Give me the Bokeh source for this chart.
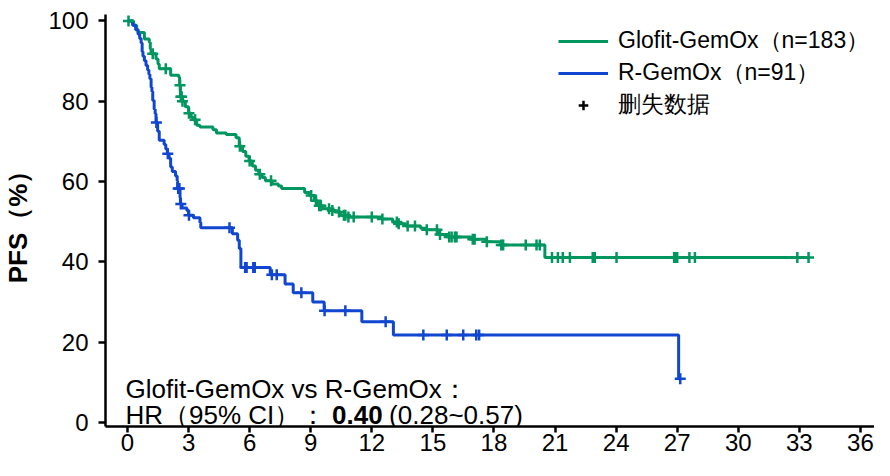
import numpy as np
from bokeh.plotting import figure
from bokeh.models import Range1d, FixedTicker, Legend, LegendItem, Label
from bokeh.embed import file_html
from bokeh.resources import INLINE

# ---------------- data ----------------
x_ticks = [0, 3, 6, 9, 12, 15, 18, 21, 24, 27, 30, 33, 36]
y_ticks = [0, 20, 40, 60, 80, 100]

glofit_label = "Glofit-GemOx（n=183）"
rgemox_label = "R-GemOx（n=91）"
censor_label = "删失数据"

glofit_time = [0, 0.30, 0.45, 0.52, 0.83, 1.07, 1.12, 1.16, 1.40, 1.50, 1.56, 2.12,
               2.52, 2.56, 2.60, 2.70, 2.84, 3.00, 3.12, 3.24, 3.40, 3.56, 4.20, 4.37,
               4.85, 5.33, 5.49, 5.65, 5.81, 5.97, 6.13, 6.29, 6.45, 6.61, 6.77, 7.10,
               7.41, 7.57, 8.70, 8.94, 9.18, 9.34, 9.58, 9.98, 10.22, 10.46, 10.79,
               12.47, 13.03, 13.27, 13.67, 14.40, 14.64, 15.28, 15.76, 16.88, 17.61,
               18.33, 20.50]
glofit_surv = [100, 98.9, 97.8, 97.1, 95.5, 94.7, 93.0, 91.8, 90.5, 89.3, 88.1, 86.5,
               86.0, 84.0, 81.1, 80.0, 78.6, 77.0, 76.0, 75.4, 74.0, 73.6, 72.9, 72.1,
               71.7, 70.9, 68.8, 67.5, 66.3, 65.1, 63.9, 62.8, 61.8, 61.0, 60.2, 59.4,
               58.9, 58.3, 57.3, 56.5, 55.2, 54.0, 53.2, 52.8, 52.4, 51.6, 51.2,
               50.7, 49.9, 49.5, 48.9, 48.4, 48.0, 46.8, 46.2, 45.6, 45.0,
               44.2, 41.1]
glofit_end = 33.5
glofit_censor = [0.05, 1.24, 1.88, 2.58, 2.62, 2.66, 2.70, 3.02, 3.32, 5.52, 6.00, 6.50,
                 7.05, 9.02, 9.26, 9.42, 9.50, 9.90, 10.06, 10.39, 10.63, 10.70, 10.85,
                 11.11, 12.00, 12.52, 13.23, 13.32, 13.76, 14.12, 14.70, 15.20, 15.35,
                 15.80, 15.92, 16.08, 16.16, 16.96, 17.05, 17.65, 18.36, 18.45, 19.56,
                 20.09, 20.25, 20.85, 21.14, 21.38, 21.73, 22.85, 22.95, 24.02, 26.85,
                 26.92, 27.00, 27.60, 27.87, 32.90, 33.45]

rgemox_time = [0, 0.25, 0.40, 0.52, 0.60, 0.67, 0.72, 0.76, 0.83, 0.91, 0.99, 1.05,
               1.10, 1.16, 1.20, 1.24, 1.31, 1.36, 1.40, 1.48, 1.56, 1.80, 1.88, 1.96,
               2.04, 2.12, 2.20, 2.36, 2.44, 2.46, 2.58, 2.60, 2.68, 2.92, 3.00, 3.24,
               3.56, 3.60, 5.15, 5.41, 5.49, 5.57, 7.01, 7.74, 8.14, 9.10, 9.66, 11.51,
               13.06, 27.07]
rgemox_surv = [100, 98.9, 97.8, 96.7, 95.6, 94.5, 92.3, 91.2, 90.1, 88.9, 87.8, 86.7,
               85.6, 83.5, 82.4, 80.2, 78.0, 76.9, 74.7, 72.5, 70.3, 69.2, 68.1, 66.9,
               65.8, 63.6, 62.5, 61.4, 60.2, 58.3, 56.0, 54.4, 53.4, 52.8, 51.6, 51.0,
               49.8, 48.5, 47.0, 45.4, 43.3, 38.6, 36.8, 34.5, 32.3, 30.0, 27.8, 25.1,
               21.8, 10.9]
rgemox_end = 27.15
rgemox_censor = [1.42, 1.98, 2.49, 2.55, 2.62, 3.02, 5.01, 5.78, 5.85, 6.18, 6.25,
                 7.09, 7.33, 8.54, 9.68, 10.70, 12.68, 14.53, 15.68, 16.49, 17.13,
                 17.27, 27.15]

hr_title = "Glofit-GemOx vs R-GemOx："
hr_prefix = "HR（95% CI）："
hr_value = "0.40"
hr_ci = "(0.28~0.57)"
y_label = "PFS（%）"

GREEN = "#00965F"
BLUE = "#1046D0"
FONT = "Liberation Sans"


def surv_at(times, surv, t):
    idx = np.searchsorted(np.asarray(times), np.asarray(t), side="right") - 1
    return np.asarray(surv)[idx]


p = figure(width=874, height=460, output_backend="svg", toolbar_location=None,
           x_range=Range1d(-1.08, 36.69), y_range=Range1d(-1.0, 101.6),
           min_border_left=104, min_border_right=0, min_border_top=14,
           min_border_bottom=34)
p.outline_line_color = None
p.grid.visible = False
p.background_fill_color = "white"
p.border_fill_color = "white"

for ax in (p.xaxis[0], p.yaxis[0]):
    ax.axis_line_width = 2.5
    ax.axis_line_color = "black"
    ax.major_tick_line_width = 2.5
    ax.major_tick_line_color = "black"
    ax.major_tick_out = 7
    ax.major_tick_in = 0
    ax.minor_tick_line_color = None
    ax.major_label_text_font = FONT
    ax.major_label_text_font_size = "24px"
    ax.major_label_text_color = "black"

p.xaxis.ticker = FixedTicker(ticks=x_ticks)
p.yaxis.ticker = FixedTicker(ticks=y_ticks)
p.xaxis.major_tick_out = 6
p.xaxis.major_label_standoff = 1
p.yaxis.major_label_standoff = 10
p.yaxis.axis_label = y_label
p.yaxis.axis_label_text_font = FONT
p.yaxis.axis_label_text_font_size = "26px"
p.yaxis.axis_label_text_font_style = "bold"
p.yaxis.axis_label_text_color = "black"
p.yaxis.axis_label_standoff = 12

# curves
r_g = p.step(x=glofit_time + [glofit_end], y=glofit_surv + [glofit_surv[-1]],
             mode="after", line_color=GREEN, line_width=3)
r_b = p.step(x=rgemox_time + [rgemox_end], y=rgemox_surv + [rgemox_surv[-1]],
             mode="after", line_color=BLUE, line_width=3)

p.scatter(x=glofit_censor, y=surv_at(glofit_time, glofit_surv, glofit_censor),
          marker="cross", size=11, line_width=2.5, line_color=GREEN)
p.scatter(x=rgemox_censor, y=surv_at(rgemox_time, rgemox_surv, rgemox_censor),
          marker="cross", size=11, line_width=2.5, line_color=BLUE)
# legend-only renderer for the censor symbol (NaN point is never drawn)
r_c = p.scatter(x=[np.nan], y=[np.nan], marker="cross", size=11, line_width=2.5,
                line_color="black")

legend = Legend(items=[LegendItem(label=glofit_label, renderers=[r_g]),
                       LegendItem(label=rgemox_label, renderers=[r_b]),
                       LegendItem(label=censor_label, renderers=[r_c])],
                location=(453, 306), padding=0, margin=0, spacing=1,
                glyph_width=50, glyph_height=24, label_height=24,
                label_standoff=10, label_text_font=FONT,
                label_text_font_size="23px", label_text_color="black",
                border_line_alpha=0, background_fill_alpha=0)
p.add_layout(legend)

common = dict(text_font=FONT, text_font_size="26px", text_color="black",
              text_baseline="alphabetic")
p.add_layout(Label(x=-0.1, y=8.4, text=hr_title, **common))
p.add_layout(Label(x=-0.1, y=1.9, text=hr_prefix, **common))
p.add_layout(Label(x=10.05, y=1.9, text=hr_value, text_font_style="bold", **common))
p.add_layout(Label(x=12.85, y=1.9, text=hr_ci, **common))

open("out.html", "w").write(file_html(p, INLINE))
